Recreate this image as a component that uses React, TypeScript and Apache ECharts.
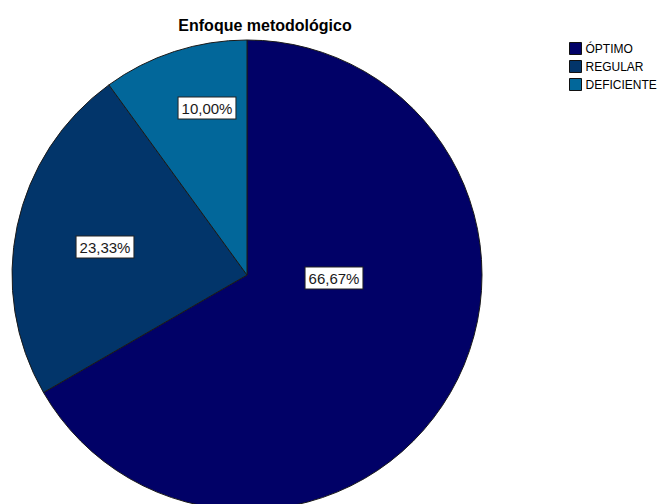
import React, { useEffect, useRef } from "react";
import * as echarts from "echarts";

const categories = ["ÓPTIMO", "REGULAR", "DEFICIENTE"];
const counts = [20, 7, 3];
const colors = ["#010167", "#02356a", "#02679a"];
// label offsets from pie centre (px), as placed in the reference
const labelOffsets = [
  [87, 3],
  [-142, -28],
  [-40, -167],
];

const CX = 247;
const CY = 275;
const R = 235;

export default function App() {
  const ref = useRef<HTMLDivElement>(null);
  useEffect(() => {
    document.body.style.margin = "0";
    const chart = echarts.init(ref.current!, null, { renderer: "svg" });
    chart.setOption({
      animation: false,
      backgroundColor: "#ffffff",
      title: {
        text: "Enfoque metodológico",
        left: 265,
        top: 17,
        padding: 0,
        textAlign: "center",
        textStyle: {
          fontFamily: "Liberation Sans, Arial, sans-serif",
          fontSize: 16,
          fontWeight: "bold",
          color: "#000",
        },
      },
      legend: {
        orient: "vertical",
        left: 569,
        top: 42,
        padding: 0,
        itemWidth: 12,
        itemHeight: 12,
        itemGap: 5,
        icon: "rect",
        itemStyle: { borderColor: "#111", borderWidth: 1 },
        textStyle: {
          fontFamily: "Liberation Sans, Arial, sans-serif",
          fontSize: 12,
          color: "#000",
          padding: [0, 0, 0, -1],
        },
        data: categories,
      },
      series: [
        {
          type: "pie",
          center: [CX, CY],
          radius: R,
          startAngle: 90,
          clockwise: true,
          avoidLabelOverlap: false,
          itemStyle: { borderColor: "#1a1a1a", borderWidth: 1 },
          emphasis: { disabled: true },
          label: {
            show: true,
            position: "inside",
            formatter: (p: any) => p.percent.toFixed(2).replace(".", ",") + "%",
            fontFamily: "Liberation Sans, Arial, sans-serif",
            fontSize: 15,
            lineHeight: 15,
            color: "#1a1a1a",
            backgroundColor: "#fff",
            borderColor: "#222",
            borderWidth: 1,
            padding: [3, 3, 3, 3],
            align: "center",
            verticalAlign: "middle",
          },
          labelLayout: (p: any) => {
            const o = labelOffsets[p.dataIndex];
            return { x: CX + o[0], y: CY + o[1] };
          },
          data: categories.map((c, i) => ({
            name: c,
            value: counts[i],
            itemStyle: { color: colors[i] },
          })),
        },
      ],
    });
    return () => chart.dispose();
  }, []);
  return <div ref={ref} style={{ width: 663, height: 504 }} />;
}
